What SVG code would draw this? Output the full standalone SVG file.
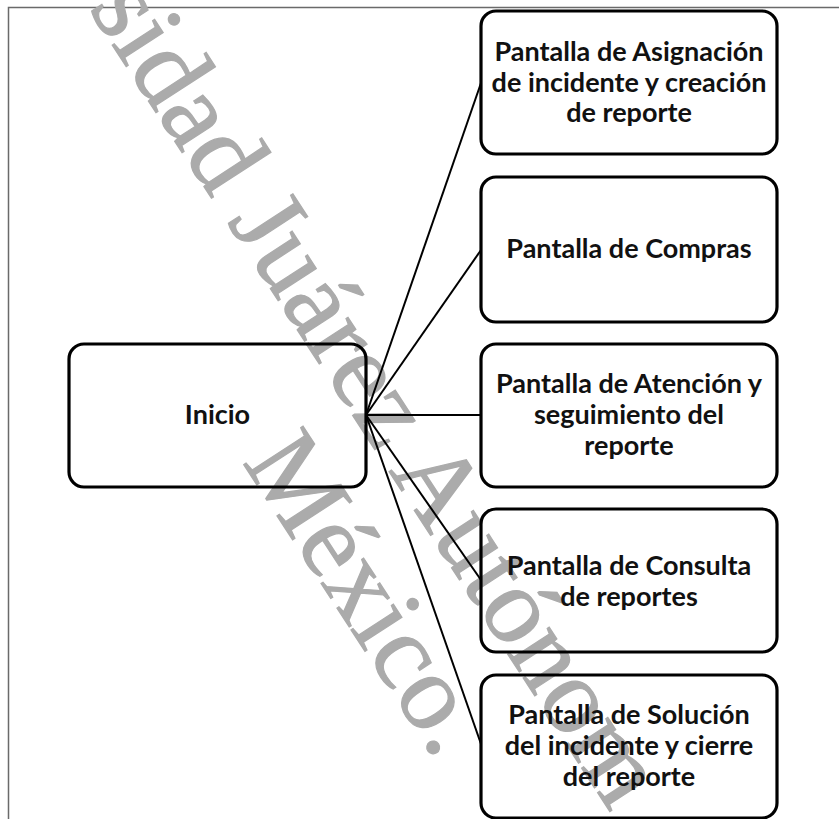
<svg xmlns="http://www.w3.org/2000/svg" width="839" height="819" viewBox="0 0 839 819">
<style>
.frame{fill:none;stroke:#6a6a6a;stroke-width:1.5}
.wm{font-family:"Liberation Serif",serif;font-size:108px;fill:#ababab;stroke:#ababab;stroke-width:1.2}
.box{fill:none;stroke:#000;stroke-width:3.2}
.lbl{font-family:Lato,"Liberation Sans",sans-serif;font-weight:bold;font-size:27px;fill:#111;text-anchor:middle}
.conn{stroke:#000;stroke-width:2;fill:none}
</style>
<rect width="839" height="819" fill="#fff"/>
<path class="frame" d="M8.5,819 V7.5 H839"/>
<g id="watermark">
<text class="wm" transform="translate(88,8) rotate(57)">sidad Juárez Autónom</text>
<text class="wm" transform="translate(242,462) rotate(57)">México.</text>
</g>
<g id="connectors">
<line class="conn" x1="366" y1="415" x2="481" y2="83"/>
<line class="conn" x1="366" y1="415" x2="481" y2="250"/>
<line class="conn" x1="366" y1="415" x2="481" y2="415"/>
<line class="conn" x1="366" y1="415" x2="481" y2="580"/>
<line class="conn" x1="366" y1="415" x2="481" y2="744"/>
</g>
<g id="inicio">
<rect class="box" x="69" y="344" width="297" height="143" rx="15"/>
<text class="lbl" x="217.5" y="424">Inicio</text>
</g>
<g id="asignacion">
<rect class="box" x="481" y="11" width="296" height="143" rx="15"/>
<text class="lbl" x="629" y="61">Pantalla de Asignación</text>
<text class="lbl" x="629" y="92">de incidente y creación</text>
<text class="lbl" x="629" y="122">de reporte</text>
</g>
<g id="compras">
<rect class="box" x="481" y="177" width="296" height="145" rx="15"/>
<text class="lbl" x="629" y="258">Pantalla de Compras</text>
</g>
<g id="atencion">
<rect class="box" x="481" y="344" width="296" height="143" rx="15"/>
<text class="lbl" x="629" y="393">Pantalla de Atención y</text>
<text class="lbl" x="629" y="424">seguimiento del</text>
<text class="lbl" x="629" y="455">reporte</text>
</g>
<g id="consulta">
<rect class="box" x="481" y="509" width="296" height="143" rx="15"/>
<text class="lbl" x="629" y="575">Pantalla de Consulta</text>
<text class="lbl" x="629" y="606">de reportes</text>
</g>
<g id="solucion">
<rect class="box" x="481" y="675" width="296" height="143" rx="15"/>
<text class="lbl" x="629" y="724">Pantalla de Solución</text>
<text class="lbl" x="629" y="755">del incidente y cierre</text>
<text class="lbl" x="629" y="786">del reporte</text>
</g>
</svg>
